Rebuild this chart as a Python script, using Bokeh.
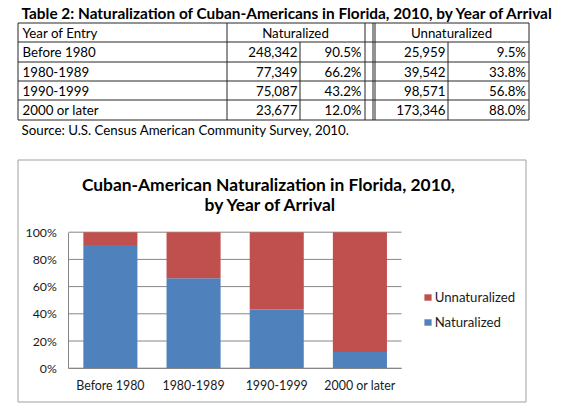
from bokeh.plotting import figure
from bokeh.models import (ColumnDataSource, Range1d, FixedTicker, PrintfTickFormatter,
                          Legend, LegendItem)
from bokeh.core.properties import value
from bokeh.embed import file_html
from bokeh.resources import INLINE

# ---------------- data ----------------
years = ["Before 1980", "1980-1989", "1990-1999", "2000 or later"]
naturalized_count = [248342, 77349, 75087, 23677]
naturalized_pct = [90.5, 66.2, 43.2, 12.0]
unnaturalized_count = [25959, 39542, 98571, 173346]
unnaturalized_pct = [9.5, 33.8, 56.8, 88.0]
pct_ticks = [0, 20, 40, 60, 80, 100]
series_names = ["Naturalized", "Unnaturalized"]

table_title = "Table 2: Naturalization of Cuban-Americans in Florida, 2010, by Year of Arrival"
table_header = ["Year of Entry", "Naturalized", "Unnaturalized"]
table_source = "Source: U.S. Census American Community Survey, 2010."
chart_title = ["Cuban-American Naturalization  in Florida, 2010,", "by Year of Arrival"]

# ---------------- styles / layout ----------------
FONT = "Lato"
BLUE = "#4F81BD"
RED = "#C0504D"
GRID = "#868686"
LINE = "#262626"
BORDER = "#a0a0a0"
TXT = "13.3px"

W, H = 566, 410
CAN_L, CAN_R, CAN_T, CAN_B = 0, W, 0, H                     # page px of the canvas
PLOT_L, PLOT_R, PLOT_T, PLOT_B = 68.3, 401.0, 231.7, 367.7  # page px of the plot area

n = len(years)
x_scale = (PLOT_R - PLOT_L) / n
y_scale = (PLOT_B - PLOT_T) / 100.0
x_range = Range1d(-(PLOT_L - CAN_L) / x_scale, n + (CAN_R - PLOT_R) / x_scale)
y_range = Range1d(-(CAN_B - PLOT_B) / y_scale, 100 + (PLOT_T - CAN_T) / y_scale)

p = figure(width=W, height=H, x_range=x_range, y_range=y_range, min_border=0,
           toolbar_location=None, output_backend="svg")
p.outline_line_color = None
p.grid.visible = False
p.extra_x_ranges = {"px": Range1d(CAN_L, CAN_R)}
p.extra_y_ranges = {"py": Range1d(CAN_B, CAN_T)}
PX = dict(x_range_name="px", y_range_name="py")

# ---------------- table ----------------
hlines = [22.5, 41.5, 61.5, 80.5, 99.5, 119.5]
t_top, t_bottom = hlines[0], hlines[-1]
p.segment(x0=[17.5] * len(hlines), y0=hlines, x1=[528.5] * len(hlines), y1=hlines,
          line_color=LINE, line_width=1, **PX)
full_v = [17.5, 226.5, 364.5, 372.5, 374.5, 528.5]
p.segment(x0=full_v, y0=[t_top] * len(full_v), x1=full_v, y1=[t_bottom] * len(full_v),
          line_color=LINE, line_width=1, **PX)
body_v = [299.5, 447.5]
p.segment(x0=body_v, y0=[hlines[1]] * len(body_v), x1=body_v, y1=[t_bottom] * len(body_v),
          line_color=LINE, line_width=1, **PX)

n_rows = n + 1
mid = [hlines[i] + 10.3 for i in range(n_rows)]
TXT_KW = dict(text_font=value(FONT), text_baseline="middle", text_color="black", **PX)
p.text(x=[21], y=[12.5], text=[table_title], text_font_style="bold",
       text_font_size="15.4px", text_align="left", **TXT_KW)
p.text(x=[22] * n_rows, y=mid, text=[table_header[0]] + years,
       text_font_size=TXT, text_align="left", **TXT_KW)
p.text(x=[295, 451], y=[mid[0]] * 2, text=table_header[1:],
       text_font_size=TXT, text_align="center", **TXT_KW)
cols = [
    (297, [f"{v:,}" for v in naturalized_count]),
    (361, [f"{v:.1f}%" for v in naturalized_pct]),
    (445, [f"{v:,}" for v in unnaturalized_count]),
    (525.5, [f"{v:.1f}%" for v in unnaturalized_pct]),
]
for cx, labels in cols:
    p.text(x=[cx] * len(labels), y=mid[1:], text=labels,
           text_font_size=TXT, text_align="right", **TXT_KW)
p.text(x=[21], y=[129.5], text=[table_source], text_font_size=TXT, text_align="left", **TXT_KW)

# ---------------- chart frame: border + title ----------------
p.quad(left=[17.5], right=[525.5], top=[159.5], bottom=[401.5], fill_color=None,
       line_color=BORDER, line_width=1, **PX)
p.text(x=[270, 270.5], y=[184.2, 204.3], text=chart_title, text_font_style="bold",
       text_font_size="17.4px", text_align="center", **TXT_KW)

# ---------------- chart: gridlines + stacked bars ----------------
p.segment(x0=[0] * len(pct_ticks), y0=pct_ticks, x1=[n] * len(pct_ticks), y1=pct_ticks,
          line_color=GRID, line_width=1)
x_center = [i + 0.5 for i in range(n)]
src = ColumnDataSource(dict(x=x_center, year=years, Naturalized=naturalized_pct,
                            Unnaturalized=unnaturalized_pct))
rs = p.vbar_stack(series_names, x="x", width=0.65, source=src,
                  fill_color=[BLUE, RED], line_color=None)

# axes (the figure's own axes, pinned to the plot area's edges)
p.xaxis.fixed_location = 0
p.yaxis.fixed_location = 0
p.xaxis.bounds = (0, n)
p.yaxis.bounds = (0, 100)
p.xaxis.ticker = FixedTicker(ticks=x_center)
p.xaxis.major_label_overrides = {xc: yr for xc, yr in zip(x_center, years)}
p.yaxis.ticker = FixedTicker(ticks=pct_ticks)
p.yaxis.formatter = PrintfTickFormatter(format="%d%%")
for ax in (p.xaxis[0], p.yaxis[0]):
    ax.axis_line_color = GRID
    ax.major_tick_line_color = None
    ax.minor_tick_line_color = None
    ax.major_tick_out = 0
    ax.major_tick_in = 0
    ax.minor_tick_out = 0
    ax.minor_tick_in = 0
    ax.major_label_text_font = FONT
    ax.major_label_text_color = "#1a1a1a"
p.xaxis.major_label_text_font_size = "12.4px"
p.yaxis.major_label_text_font_size = "12.3px"
p.yaxis.major_label_standoff = 12
p.xaxis.major_label_standoff = 10

legend = Legend(items=[LegendItem(label="Unnaturalized", renderers=[rs[1]]),
                       LegendItem(label="Naturalized", renderers=[rs[0]])],
                location=(422.7 - CAN_L, CAN_B - 332), orientation="vertical",
                glyph_width=9, glyph_height=8,
                label_standoff=3, spacing=5, label_height=20, padding=0, margin=0,
                border_line_color=None, background_fill_alpha=0,
                label_text_font=FONT, label_text_font_size="13.2px", label_text_color="#1a1a1a")
p.add_layout(legend)

open("out.html", "w").write(file_html(p, INLINE))
